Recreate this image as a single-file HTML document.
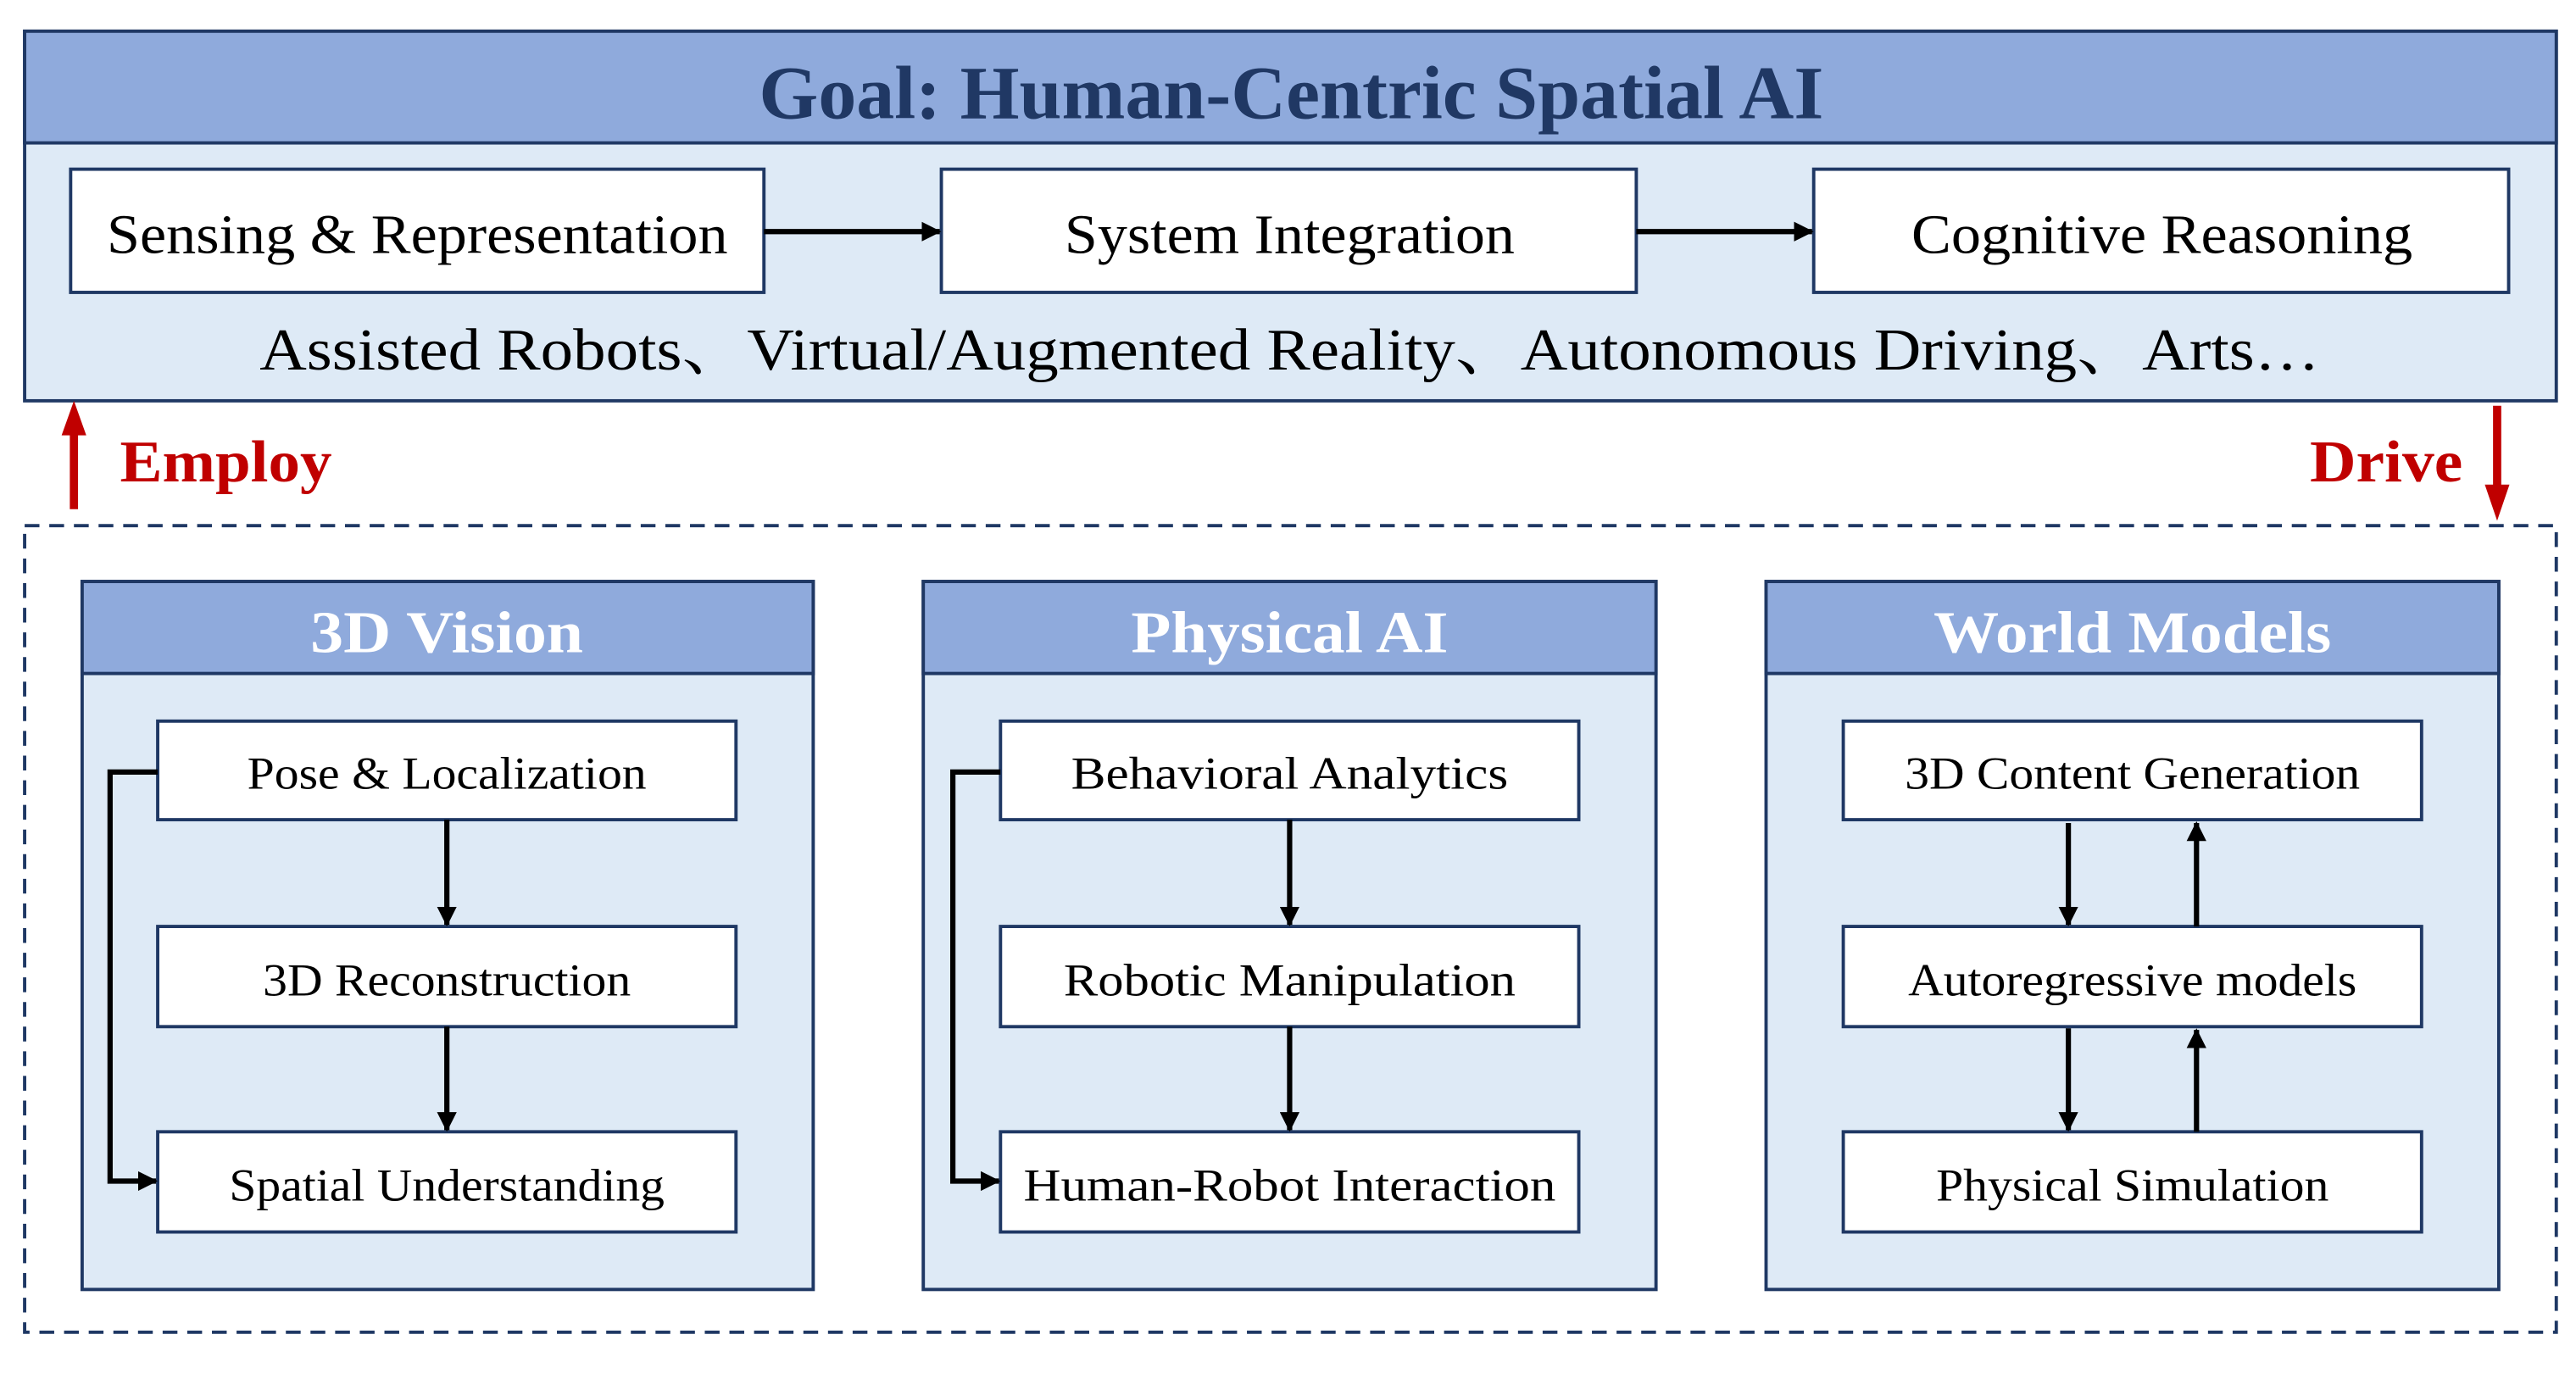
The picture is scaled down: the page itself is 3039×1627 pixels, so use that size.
<!DOCTYPE html>
<html><head><meta charset="utf-8"><style>html,body{margin:0;padding:0;background:#fff}svg{display:block}</style></head>
<body>
<svg width="3039" height="1627" viewBox="0 0 1568 839.5" preserveAspectRatio="none" xmlns="http://www.w3.org/2000/svg" font-family="'Liberation Serif', serif">
<defs>
<marker id="ah" markerWidth="12" markerHeight="12" refX="11" refY="6" orient="auto" markerUnits="userSpaceOnUse"><path d="M0,0 L12,6 L0,12 z" fill="#000"/></marker>
</defs>
<!-- top box -->
<rect x="15" y="19" width="1541" height="225" fill="#DEEAF6" stroke="#1F3864" stroke-width="2"/>
<rect x="15" y="19" width="1541" height="68" fill="#8FAADC" stroke="#1F3864" stroke-width="2"/>
<text x="786" y="72" font-size="46" font-weight="bold" fill="#203864" text-anchor="middle" textLength="648" lengthAdjust="spacingAndGlyphs">Goal: Human-Centric Spatial AI</text>
<g fill="#fff" stroke="#1F3864" stroke-width="2">
<rect x="43" y="103" width="422" height="75"/><rect x="573" y="103" width="423" height="75"/><rect x="1104" y="103" width="423" height="75"/>
</g>
<g font-size="34" fill="#000" text-anchor="middle">
<text x="254" y="154" textLength="378" lengthAdjust="spacingAndGlyphs">Sensing &amp; Representation</text>
<text x="785" y="154" textLength="274" lengthAdjust="spacingAndGlyphs">System Integration</text>
<text x="1316" y="154" textLength="305" lengthAdjust="spacingAndGlyphs">Cognitive Reasoning</text>
</g>
<g stroke="#000" stroke-width="3.2" marker-end="url(#ah)">
<line x1="465" y1="141" x2="572" y2="141"/><line x1="996" y1="141" x2="1103" y2="141"/>
</g>
<text x="785" y="225" font-size="36" text-anchor="middle" textLength="1254" lengthAdjust="spacingAndGlyphs" font-family="'Liberation Serif','Noto Serif CJK SC',serif">Assisted Robots、Virtual/Augmented Reality、Autonomous Driving、Arts…</text>
<!-- red arrows -->
<line x1="45" y1="310" x2="45" y2="262" stroke="#C00000" stroke-width="5"/>
<path d="M37.5,265 L45,244 L52.5,265 z" fill="#C00000"/>
<text x="73" y="293" font-size="36" font-weight="bold" fill="#C00000" textLength="129" lengthAdjust="spacingAndGlyphs">Employ</text>
<line x1="1520" y1="247" x2="1520" y2="298" stroke="#C00000" stroke-width="5"/>
<path d="M1512.5,295 L1520,317 L1527.5,295 z" fill="#C00000"/>
<text x="1499" y="293" font-size="36" font-weight="bold" fill="#C00000" text-anchor="end" textLength="93" lengthAdjust="spacingAndGlyphs">Drive</text>
<!-- dashed -->
<rect x="15" y="320" width="1541" height="491" fill="none" stroke="#1F3864" stroke-width="2" stroke-dasharray="9,6"/>
<!-- panels -->
<g stroke="#1F3864" stroke-width="2">
<rect x="50" y="354" width="445" height="431" fill="#DEEAF6"/><rect x="50" y="354" width="445" height="56" fill="#8FAADC"/>
<rect x="562" y="354" width="446" height="431" fill="#DEEAF6"/><rect x="562" y="354" width="446" height="56" fill="#8FAADC"/>
<rect x="1075" y="354" width="446" height="431" fill="#DEEAF6"/><rect x="1075" y="354" width="446" height="56" fill="#8FAADC"/>
</g>
<g font-size="36" font-weight="bold" fill="#fff" text-anchor="middle">
<text x="272" y="397" textLength="166" lengthAdjust="spacingAndGlyphs">3D Vision</text>
<text x="785" y="397" textLength="193" lengthAdjust="spacingAndGlyphs">Physical AI</text>
<text x="1298" y="397" textLength="242" lengthAdjust="spacingAndGlyphs">World Models</text>
</g>
<g fill="#fff" stroke="#1F3864" stroke-width="2">
<rect x="96" y="439" width="352" height="60"/><rect x="96" y="564" width="352" height="61"/><rect x="96" y="689" width="352" height="61"/>
<rect x="609" y="439" width="352" height="60"/><rect x="609" y="564" width="352" height="61"/><rect x="609" y="689" width="352" height="61"/>
<rect x="1122" y="439" width="352" height="60"/><rect x="1122" y="564" width="352" height="61"/><rect x="1122" y="689" width="352" height="61"/>
</g>
<g font-size="28" fill="#000" text-anchor="middle">
<text x="272" y="480" textLength="243" lengthAdjust="spacingAndGlyphs">Pose &amp; Localization</text>
<text x="272" y="606" textLength="224" lengthAdjust="spacingAndGlyphs">3D Reconstruction</text>
<text x="272" y="731" textLength="265" lengthAdjust="spacingAndGlyphs">Spatial Understanding</text>
<text x="785" y="480" textLength="266" lengthAdjust="spacingAndGlyphs">Behavioral Analytics</text>
<text x="785" y="606" textLength="275" lengthAdjust="spacingAndGlyphs">Robotic Manipulation</text>
<text x="785" y="731" textLength="324" lengthAdjust="spacingAndGlyphs">Human-Robot Interaction</text>
<text x="1298" y="480" textLength="277" lengthAdjust="spacingAndGlyphs">3D Content Generation</text>
<text x="1298" y="606" textLength="273" lengthAdjust="spacingAndGlyphs">Autoregressive models</text>
<text x="1298" y="731" textLength="239" lengthAdjust="spacingAndGlyphs">Physical Simulation</text>
</g>
<g stroke="#000" stroke-width="3.2" fill="none" marker-end="url(#ah)">
<line x1="272" y1="499" x2="272" y2="563"/><line x1="272" y1="625" x2="272" y2="688"/>
<line x1="785" y1="499" x2="785" y2="563"/><line x1="785" y1="625" x2="785" y2="688"/>
<polyline points="96,470 67,470 67,719 95,719"/>
<polyline points="609,470 580,470 580,719 608,719"/>
<line x1="1259" y1="501" x2="1259" y2="563"/><line x1="1259" y1="626" x2="1259" y2="688"/>
<line x1="1337" y1="564" x2="1337" y2="501"/><line x1="1337" y1="689" x2="1337" y2="627"/>
</g>
</svg>
</body></html>
